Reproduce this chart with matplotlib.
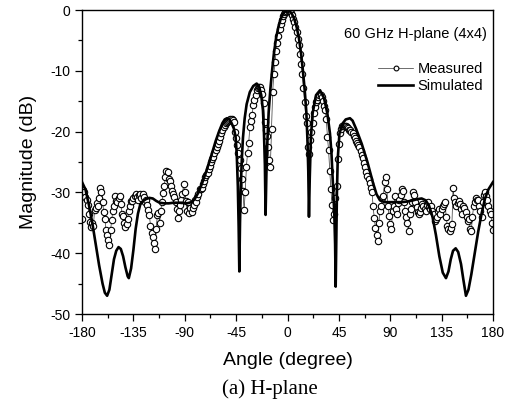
import numpy as np
import matplotlib
matplotlib.use("Agg")
import matplotlib.pyplot as plt
from matplotlib.ticker import MultipleLocator

# measured pattern, one point per degree from -180 to 180
meas_angle = np.arange(-180, 181, 1)
meas_db = [
    -34.3, -29.6, -29.9, -30.8, -31.2, -32.1, -33.6, -34.8, -35.7, -35.0,
    -35.5, -32.9, -32.5, -31.8, -32.3, -31.0, -29.2, -30.0, -31.5, -33.2,
    -34.3, -36.2, -37.0, -37.8, -38.6, -36.2, -34.6, -33.0, -32.2, -30.6,
    -31.4, -31.6, -31.0, -30.6, -31.9, -33.5, -33.8, -35.0, -35.7, -35.2,
    -34.3, -33.0, -32.3, -31.4, -31.4, -30.9, -30.6, -30.3, -30.8, -31.2,
    -30.5, -30.3, -31.0, -30.3, -30.8, -31.5, -31.2, -32.0, -32.9, -33.7,
    -35.5, -36.6, -37.4, -38.4, -39.3, -36.0, -33.7, -33.4, -35.0, -33.0,
    -31.6, -30.1, -29.0, -27.5, -26.4, -26.7, -27.8, -28.1, -29.0, -29.8,
    -30.2, -30.8, -31.6, -32.8, -34.2, -33.0, -32.0, -31.3, -30.2, -28.7,
    -30.0, -31.4, -33.0, -31.6, -33.4, -32.6, -33.2, -32.5, -32.0, -31.2,
    -31.5, -30.8, -30.2, -29.5, -29.5, -29.3, -28.6, -28.2, -27.5, -27.2,
    -26.8, -26.2, -25.6, -25.0, -24.5, -24.1, -23.5, -23.0, -22.5, -22.0,
    -21.5, -20.9, -20.3, -19.8, -19.2, -18.9, -18.6, -18.4, -18.2, -18.1,
    -18.0, -18.0, -18.1, -18.4, -20.0, -21.0, -22.2, -23.6, -24.6, -26.0,
    -27.8, -29.8, -32.9, -29.9, -25.8, -23.5, -21.9, -19.2, -18.2, -17.3,
    -15.6, -14.8, -14.0, -13.2, -12.9, -12.7, -12.7, -13.1, -13.8, -15.3,
    -18.4, -19.8, -20.8, -22.5, -24.7, -25.8, -19.5, -13.5, -10.5, -8.6,
    -6.8, -5.4, -4.2, -3.2, -2.3, -1.6, -1.0, -0.6, -0.3, -0.1,
    0.0, -0.1, -0.2, -0.5, -0.9, -1.4, -2.0, -2.8, -3.7, -4.7,
    -5.8, -7.2, -8.8, -10.6, -12.8, -15.2, -17.5, -18.6, -22.6, -23.7,
    -21.4, -20.0, -18.6, -17.0, -15.9, -15.2, -14.8, -14.3, -14.0, -14.0,
    -14.3, -15.0, -15.8, -16.5, -18.0, -20.9, -23.1, -26.5, -29.5, -32.0,
    -34.6, -33.5, -31.0, -29.0, -24.5, -22.0, -20.3, -19.5, -19.1, -19.0,
    -19.0, -19.1, -19.2, -19.4, -19.7, -19.8, -20.0, -20.3, -20.7, -21.1,
    -21.5, -21.8, -22.2, -22.6, -23.2, -23.8, -24.3, -25.2, -25.9, -26.6,
    -27.3, -27.8, -28.4, -29.2, -29.9, -32.3, -34.2, -35.8, -37.0, -38.0,
    -35.0, -33.0, -32.3, -31.0, -30.6, -28.3, -27.4, -29.5, -32.3, -33.9,
    -35.2, -36.0, -33.0, -32.3, -30.6, -32.7, -33.6, -31.7, -31.2, -30.5,
    -29.5, -29.8, -31.5, -33.0, -34.1, -35.0, -36.3, -33.6, -32.7, -31.5,
    -30.0, -30.4, -31.6, -32.4, -33.2, -33.6, -33.2, -32.5, -31.9, -32.3,
    -32.7, -33.0, -32.0, -31.6, -32.4, -32.8, -32.3, -33.0, -33.6, -34.7,
    -34.4, -34.1, -33.0, -32.7, -33.5, -32.8, -32.3, -31.9, -31.6, -34.0,
    -35.5, -36.0, -36.3, -35.8, -35.2, -29.3, -31.0, -31.6, -32.3, -31.8,
    -31.4, -31.9, -32.8, -33.5, -32.3, -32.6, -33.3, -34.0, -34.7, -34.4,
    -36.0, -36.4, -34.0, -32.3, -31.6, -31.0, -31.2, -31.3, -32.2, -33.0,
    -34.0, -31.5, -30.4, -29.9, -30.6, -31.3, -32.3, -33.0, -33.6, -35.0,
    -36.2,
]

# simulated pattern (angle, dB)
sim_points = [
    (-180, -28.3), (-177, -29.5), (-174, -32.0), (-171, -35.0), (-168, -38.5),
    (-165, -42.0), (-162, -45.0), (-160, -46.5), (-158, -47.0), (-156, -46.0),
    (-154, -43.5), (-152, -41.0), (-150, -39.6), (-148, -39.0), (-146, -39.3),
    (-144, -40.5), (-142, -42.3), (-140, -43.8), (-139, -44.1), (-137, -42.5),
    (-135, -39.5), (-133, -36.0), (-131, -33.5), (-129, -32.0), (-127, -31.5),
    (-124, -31.1), (-121, -30.9), (-118, -31.0), (-115, -31.4), (-112, -31.7),
    (-108, -31.8), (-104, -31.8), (-100, -31.7), (-96, -31.7), (-92, -31.7),
    (-88, -31.8), (-84, -31.6), (-81, -31.0), (-78, -30.0), (-75, -28.6),
    (-72, -27.0), (-69, -25.3), (-66, -23.5), (-63, -21.6), (-60, -20.0),
    (-57, -18.6), (-55, -18.0), (-53, -17.8), (-51, -18.0), (-49, -18.6),
    (-47, -19.5), (-45.5, -20.8), (-44.5, -23.5), (-43.5, -29.0), (-42.8, -35.5),
    (-42.2, -43.0), (-41.6, -35.0), (-41, -29.5), (-40, -24.5), (-39, -21.0),
    (-37.5, -17.8), (-35.8, -15.5), (-33, -13.5), (-30, -12.5), (-27, -12.1),
    (-25, -12.5), (-23, -14.0), (-21.5, -16.5), (-20.6, -20.3), (-19.8, -25.5),
    (-19.2, -33.7), (-18.5, -27.0), (-17.7, -22.0), (-16.5, -16.8), (-15, -13.0),
    (-13.5, -10.0), (-12, -7.3), (-10, -4.6), (-8, -2.8), (-6, -1.5),
    (-4, -0.7), (-2, -0.2), (0, 0.0), (2, -0.2), (4, -0.7),
    (6, -1.5), (8, -2.8), (10, -4.6), (12, -7.3), (13.5, -10.0),
    (15, -13.0), (16.5, -16.8), (17.5, -21.5), (18.2, -26.5), (18.8, -34.0),
    (19.5, -27.5), (20.5, -21.0), (22, -17.0), (25, -14.0), (28.5, -13.2),
    (32, -14.5), (34.9, -17.0), (37.2, -20.3), (38.5, -23.5), (39.6, -28.0),
    (41, -33.5), (41.7, -38.5), (42.2, -45.5), (42.7, -38.0), (43.3, -30.0),
    (44, -24.5), (45.5, -20.3), (48.5, -18.6), (51, -18.0), (54.7, -17.8),
    (57, -18.2), (60, -19.5), (65, -22.0), (70, -25.0), (75, -28.5),
    (78, -30.3), (81, -31.3), (85, -31.6), (90, -31.6), (95, -31.6),
    (100, -31.6), (105, -31.5), (110, -31.3), (114, -31.1), (117.5, -31.0),
    (121, -31.3), (124, -32.2), (127, -34.0), (130, -37.0), (133, -40.5),
    (136, -43.2), (138.8, -44.1), (141, -43.0), (143, -41.0), (145, -39.6),
    (147.3, -39.2), (149.5, -39.8), (152, -41.8), (154, -44.3), (156.3, -47.0),
    (158.5, -46.0), (161, -43.5), (164, -40.0), (167, -36.5), (170, -33.5),
    (173, -31.0), (176, -29.5), (180, -28.3),
]
sim_angle = [p[0] for p in sim_points]
sim_db = [p[1] for p in sim_points]

xticks = [-180, -135, -90, -45, 0, 45, 90, 135, 180]
yticks = [0, -10, -20, -30, -40, -50]

plt.rcParams['font.family'] = ['Liberation Sans', 'DejaVu Sans']
plt.rcParams['axes.unicode_minus'] = False

fig = plt.figure(figsize=(5.11, 4.03), dpi=100)
ax = fig.add_axes([82 / 511, 1 - 314 / 403, 411 / 511, 304 / 403])

ax.plot(meas_angle, meas_db, color='#333333', lw=0.5, marker='o', ms=4.6,
        mfc='white', mec='black', mew=0.8, zorder=2, label='Measured')
ax.plot(sim_angle, sim_db, color='black', lw=1.9, zorder=3, label='Simulated')

ax.set_xlim(-180, 180)
ax.set_ylim(-50, 0)
ax.set_xticks(xticks)
ax.set_yticks(yticks)
ax.xaxis.set_minor_locator(MultipleLocator(22.5))
ax.yaxis.set_minor_locator(MultipleLocator(5))
ax.tick_params(which='major', length=5, width=0.9, labelsize=10, direction='out')
ax.tick_params(which='minor', length=3, width=0.9, direction='out')
for s in ax.spines.values():
    s.set_linewidth(1.0)

ax.set_xlabel('Angle (degree)', fontsize=14, labelpad=9)
ax.set_ylabel('Magnitude (dB)', fontsize=14, labelpad=9)

ax.text(0.985, 0.921, '60 GHz H-plane (4x4)', transform=ax.transAxes,
        ha='right', va='center', fontsize=10.5)
leg = ax.legend(loc='upper right', bbox_to_anchor=(0.976, 0.83), frameon=False,
                fontsize=10.5, handlelength=2.4, handletextpad=0.3,
                labelspacing=0.25, borderpad=0, borderaxespad=0, markerscale=0.75)

fig.text(270 / 511, 1 - 389 / 403, '(a) H-plane', ha='center', va='center',
         fontsize=15, family='Liberation Serif')

fig.savefig('out.png', dpi=100)
